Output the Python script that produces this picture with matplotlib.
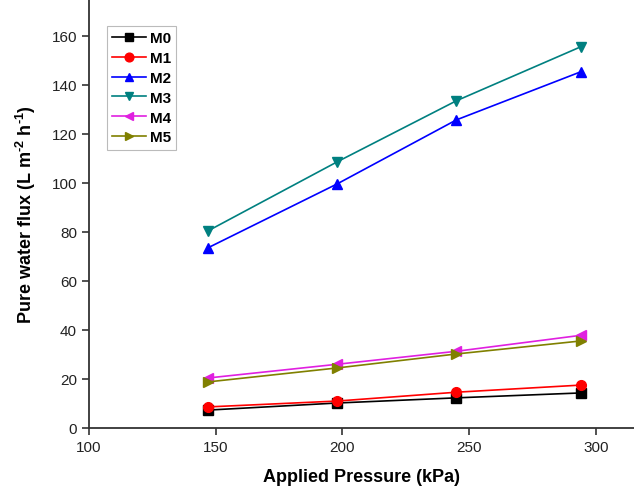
import matplotlib
matplotlib.use('Agg')
import matplotlib.pyplot as plt

plt.rcParams['font.family'] = ['Liberation Sans', 'DejaVu Sans']
plt.rcParams['mathtext.fontset'] = 'custom'
plt.rcParams['mathtext.rm'] = 'Liberation Sans:bold'
plt.rcParams['mathtext.bf'] = 'Liberation Sans:bold'

# applied pressure (kPa)
pressure = [147, 198, 245, 294]

# pure water flux for each membrane
m0 = [7.3, 10.2, 12.3, 14.3]
m1 = [8.6, 11.0, 14.6, 17.5]
m2 = [73.5, 99.6, 125.7, 145.3]
m3 = [80.4, 108.6, 133.5, 155.5]
m4 = [20.4, 26.0, 31.3, 37.8]
m5 = [18.8, 24.5, 30.2, 35.5]

labels = ['M0', 'M1', 'M2', 'M3', 'M4', 'M5']
series = [m0, m1, m2, m3, m4, m5]
colors = ['black', 'red', 'blue', '#008080', '#e020e0', '#808000']
markers = ['s', 'o', '^', 'v', '<', '>']

fig = plt.figure(figsize=(6.34, 4.89), dpi=100)
ax = fig.add_axes([0.140, 0.1227, 0.86, 0.8773])

for lab, ys, col, mk in zip(labels, series, colors, markers):
    ax.plot(pressure, ys, color=col, marker=mk, markersize=7, linewidth=1.2,
            label=lab)

ax.set_xlim(100, 315)
ax.set_ylim(0, 175)
ax.set_xticks([100, 150, 200, 250, 300])
ax.set_yticks(range(0, 161, 20))

for side in ['top', 'right']:
    ax.spines[side].set_visible(False)
for side in ['left', 'bottom']:
    ax.spines[side].set_linewidth(1.3)
    ax.spines[side].set_color('#333333')

ax.tick_params(direction='out', length=5, width=1.2, labelsize=11,
               colors='#333333', labelcolor='#222222')

ax.set_xlabel('Applied Pressure (kPa)', fontsize=13, fontweight='bold',
              labelpad=10)
ax.set_ylabel(r'Pure water flux (L m$^{\text{-2}}$ h$^{\text{-1}}$)',
              fontsize=13, fontweight='bold', labelpad=10)

leg = ax.legend(loc='upper left', bbox_to_anchor=(0.033, 0.937),
                prop={'weight': 'bold', 'size': 11}, frameon=True,
                fancybox=False, handlelength=2.2, borderpad=0.35,
                labelspacing=0.38, handletextpad=0.25, borderaxespad=0,
                markerscale=0.9)
leg.get_frame().set_edgecolor('#aaaaaa')
leg.get_frame().set_linewidth(0.8)

fig.savefig('out.png', dpi=100)
